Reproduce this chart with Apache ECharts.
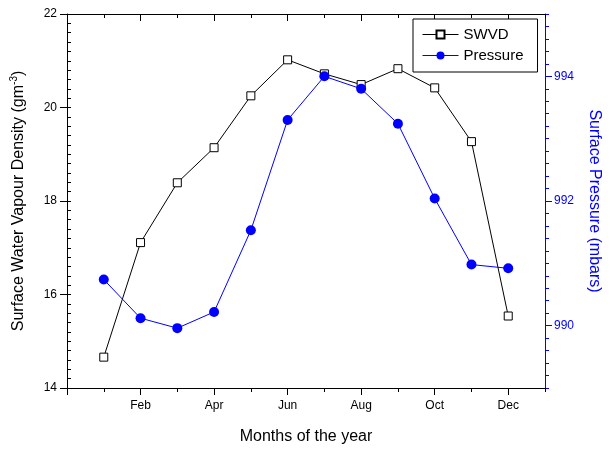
<!DOCTYPE html>
<html>
<head>
<meta charset="utf-8">
<script src="https://cdn.jsdelivr.net/npm/echarts@6/dist/echarts.min.js"></script>
<style>html,body{margin:0;padding:0;background:#fff}#c{width:610px;height:450px}</style>
</head>
<body>
<div id="c"></div>
<script>
const months = [1,2,3,4,5,6,7,8,9,10,11,12];
const monthNames = {2:'Feb',4:'Apr',6:'Jun',8:'Aug',10:'Oct',12:'Dec'};
const swvd = [14.66,17.11,18.39,19.14,20.25,21.02,20.72,20.49,20.83,20.42,19.27,15.54];
const pressure = [990.74,990.12,989.96,990.22,991.53,993.30,994.00,993.80,993.24,992.04,990.98,990.92];
const xMajor = [0,2,4,6,8,10,12];
const xLabelVals = [2,4,6,8,10,12];
const rightMajor = [990,992,994];

const FONT = 'Liberation Sans, Arial, sans-serif';
const BLUE = '#0000ff';

const chart = echarts.init(document.getElementById('c'), null, {renderer:'canvas'});
chart.setOption({
  animation:false,
  backgroundColor:'#fff',
  textStyle:{fontFamily:FONT},
  grid:{left:67,right:62,top:14,bottom:61,containLabel:false},
  legend:{
    orient:'vertical', left:413, top:19,
    padding:[7,14,8,9], itemGap:4, itemWidth:36, itemHeight:10,
    borderColor:'#000', borderWidth:1, backgroundColor:'#fff',
    lineStyle:{width:1},
    textStyle:{fontSize:15, color:'#000', fontFamily:FONT, lineHeight:17},
    data:['SWVD','Pressure']
  },
  xAxis:[
    {type:'value', position:'bottom', min:0, max:13, gridIndex:0,
     axisLine:{onZero:false, lineStyle:{color:'#000', width:1}},
     axisTick:{customValues:xMajor, length:7, lineStyle:{color:'#000'}},
     axisLabel:{customValues:xLabelVals, margin:12, fontSize:12, color:'#000', fontFamily:FONT,
       formatter:v=>monthNames[v]||''},
     splitLine:{show:false},
     name:'Months of the year', nameLocation:'middle', nameGap:41,
     nameTextStyle:{fontSize:16, color:'#000', fontFamily:FONT}},
    {type:'value', position:'bottom', min:0, max:13, interval:1,
     axisLine:{show:false, onZero:false}, axisLabel:{show:false},
     axisTick:{length:4, lineStyle:{color:'#000'}}, splitLine:{show:false}},
    {type:'value', position:'top', min:0, max:13,
     axisLine:{onZero:false, lineStyle:{color:'#000'}}, axisLabel:{show:false},
     axisTick:{customValues:xMajor, inside:true, length:7, lineStyle:{color:'#000'}}, splitLine:{show:false}},
    {type:'value', position:'top', min:0, max:13, interval:1,
     axisLine:{show:false, onZero:false}, axisLabel:{show:false},
     axisTick:{inside:true, length:4, lineStyle:{color:'#000'}}, splitLine:{show:false}}
  ],
  yAxis:[
    {type:'value', position:'left', min:14, max:22, interval:2,
     axisLine:{show:true, onZero:false, lineStyle:{color:'#000'}},
     axisTick:{show:true, length:7, lineStyle:{color:'#000'}},
     axisLabel:{margin:10, fontSize:12, color:'#000', fontFamily:FONT},
     splitLine:{show:false},
     name:'{a|Surface Water Vapour Density (gm}{s|-3}{a|)}', nameLocation:'middle', nameGap:38,
     nameTextStyle:{fontSize:16, color:'#000', fontFamily:FONT,
       rich:{a:{fontSize:16, fontFamily:FONT, color:'#000', lineHeight:20},
             s:{fontSize:10, fontFamily:FONT, color:'#000', verticalAlign:'top', lineHeight:12}}}},
    {type:'value', position:'right', min:989, max:995,
     axisLine:{show:true, onZero:false, lineStyle:{color:BLUE}},
     axisTick:{show:true, customValues:rightMajor, length:7, lineStyle:{color:BLUE}},
     axisLabel:{customValues:rightMajor, margin:9, fontSize:12, color:BLUE, fontFamily:FONT},
     splitLine:{show:false},
     name:'Surface Pressure (mbars)', nameLocation:'middle', nameGap:41, nameRotate:-90,
     nameTextStyle:{fontSize:16, color:BLUE, fontFamily:FONT}},
    {type:'value', position:'left', min:14, max:22, interval:0.2,
     axisLine:{show:false, onZero:false}, axisLabel:{show:false},
     axisTick:{inside:true, length:4, lineStyle:{color:'#000'}}, splitLine:{show:false}},
    {type:'value', position:'right', min:989, max:995, interval:0.2,
     axisLine:{show:false, onZero:false}, axisLabel:{show:false},
     axisTick:{length:4, lineStyle:{color:BLUE}}, splitLine:{show:false}}
  ],
  series:[
    {name:'SWVD', type:'line', xAxisIndex:0, yAxisIndex:0,
     data:months.map((m,i)=>[m, swvd[i]]),
     symbol:'rect', symbolSize:8,
     lineStyle:{color:'#000', width:1},
     itemStyle:{color:'#fff', borderColor:'#000', borderWidth:1}, z:3},
    {name:'Pressure', type:'line', xAxisIndex:0, yAxisIndex:1,
     data:months.map((m,i)=>[m, pressure[i]]),
     symbol:'circle', symbolSize:10,
     lineStyle:{color:BLUE, width:1},
     itemStyle:{color:BLUE, borderWidth:0}, z:4}
  ]
});
</script>
</body>
</html>
